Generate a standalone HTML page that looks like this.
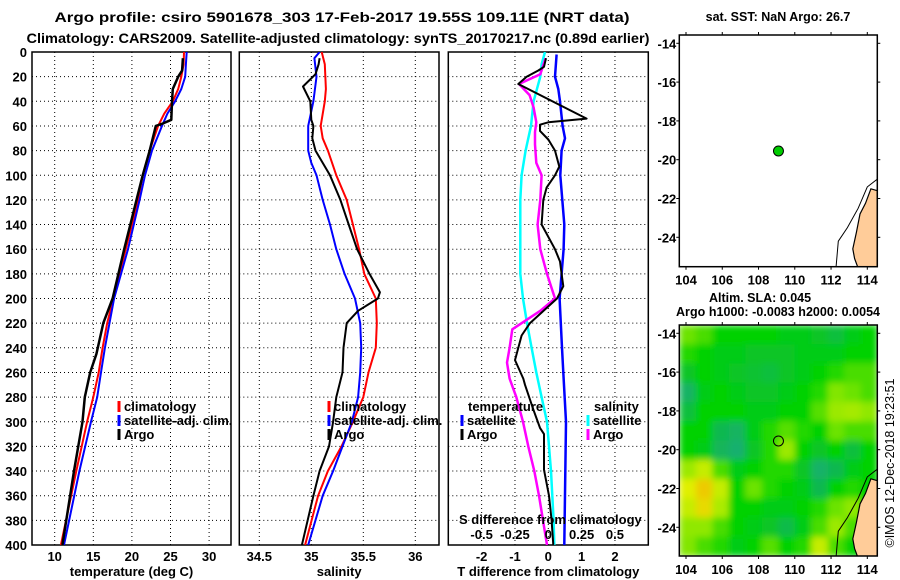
<!DOCTYPE html>
<html><head><meta charset="utf-8"><style>
html,body{margin:0;padding:0;background:#fff;}
svg{display:block;font-family:"Liberation Sans",sans-serif;font-weight:bold;}
</style></head><body>
<svg id="s" width="900" height="580" viewBox="0 0 900 580" xmlns="http://www.w3.org/2000/svg">
<defs>
<clipPath id="c1"><rect x="32" y="52" width="199" height="493"/></clipPath>
<clipPath id="c2"><rect x="239.3" y="52" width="199.7" height="493"/></clipPath>
<clipPath id="c3"><rect x="448.3" y="52" width="200" height="493"/></clipPath>
<clipPath id="cm1"><rect x="679.3" y="35" width="198" height="231.7"/></clipPath>
<clipPath id="cm2"><rect x="679.3" y="325" width="198" height="231"/></clipPath>
<filter id="blur" x="0" y="0" width="1" height="1"><feGaussianBlur stdDeviation="3.5" edgeMode="duplicate"/></filter>
</defs>
<text x="342" y="22" text-anchor="middle" font-size="14" textLength="575" lengthAdjust="spacingAndGlyphs">Argo profile: csiro 5901678_303 17-Feb-2017 19.55S 109.11E (NRT data)</text>
<text x="338" y="43" text-anchor="middle" font-size="13.5" textLength="623" lengthAdjust="spacingAndGlyphs">Climatology: CARS2009. Satellite-adjusted climatology: synTS_20170217.nc (0.89d earlier)</text>
</svg>
<script>
// ---- data ----
const depthTicks=[0,20,40,60,80,100,120,140,160,180,200,220,240,260,280,300,320,340,360,380,400];
const tempTicks=[10,15,20,25,30];
const salTicks=[34.5,35,35.5,36];
const tdiffTicks=[-2,-1,0,1,2];
const sdiffTicks=[-0.5,-0.25,0,0.25,0.5];
const sdiffLabels=['-0.5','-0.25','0','0.25','0.5'];
const climTDepth=[0,10,20,30,40,50,60,80,100,120,160,200,220,240,260,280,300,340,400];
const climT=[26.75,26.7,26.4,26,25.3,24.2,23.4,22.3,21.4,20.8,19.2,17.6,16.8,16.2,15.7,15.0,14.2,12.8,10.8];
const satTDepth=[0,10,20,30,40,50,60,80,100,120,160,200,220,240,260,280,300,340,400];
const satT=[27.1,27.0,26.9,26.4,25.6,24.6,23.9,22.6,21.7,21.0,19.5,17.7,17.1,16.5,16.0,15.5,14.7,13.2,11.2];
const argoTDepth=[5,15,20,30,40,55,58,60,80,100,120,160,200,220,245,260,280,300,340,400];
const argoT=[26.6,26.5,26,25.3,25.2,25.1,24,23.1,22.3,21.4,20.6,19.0,17.5,16.3,15.4,14.6,13.9,13.6,12.5,11.0];
const climSDepth=[0,10,30,40,60,70,80,100,120,140,160,180,200,220,240,260,280,300,320,340,360,400];
const climS=[35.10,35.13,35.14,35.13,35.09,35.11,35.16,35.24,35.34,35.40,35.46,35.51,35.62,35.63,35.62,35.55,35.50,35.40,35.29,35.16,35.065,34.94];
const satSDepth=[0,5,20,40,60,80,90,100,120,140,160,180,200,220,240,260,280,300,320,340,360,400];
const satS=[35.08,35.03,35.05,35.02,34.97,34.97,35.0,35.05,35.11,35.18,35.24,35.32,35.42,35.47,35.48,35.47,35.45,35.39,35.30,35.21,35.11,34.97];
const argoSDepth=[5,10,18,28,40,55,60,70,80,100,120,140,160,180,195,200,210,220,240,260,280,300,320,340,360,400];
const argoS=[35.08,35.07,35.04,34.92,34.99,35.0,35.02,35.01,35.04,35.18,35.28,35.36,35.44,35.56,35.66,35.64,35.45,35.34,35.31,35.30,35.24,35.21,35.17,35.08,35.02,34.91];
const tdSatDepth=[2,20,30,40,60,70,80,100,140,160,200,240,260,300,400];
const tdSat=[0.25,0.2,0.3,0.35,0.43,0.5,0.4,0.36,0.48,0.46,0.34,0.41,0.45,0.53,0.48];
const tdArgoDepth=[5,12,15,20,26,54,57,59,64,71,80,93,100,110,120,140,160,170,180,190,200,220,230,250,265,270,290,305,310,339,360,380,400];
const tdArgo=[-0.07,-0.13,-0.3,-0.65,-0.9,1.15,0.0,-0.25,-0.25,0,0.2,0.33,0.2,-0.05,-0.15,-0.2,0.2,0.35,0.4,0.45,0.26,-0.55,-0.8,-1.0,-0.75,-0.7,-0.45,-0.25,-0.13,-0.13,0.02,0.1,0.15];
const sdSatDepth=[0,10,20,40,60,80,100,120,180,200,220,240,260,280,300,340,380,400];
const sdSat=[-0.025,-0.05,-0.06,-0.11,-0.13,-0.17,-0.2,-0.21,-0.21,-0.19,-0.16,-0.125,-0.09,-0.05,-0.01,0.02,0.04,0.045];
const sdArgoDepth=[5,18,26,35,45,57,65,75,90,100,120,140,160,180,200,210,225,240,252,265,280,300,320,340,360,380,400];
const sdArgo=[-0.02,-0.06,-0.22,-0.14,-0.11,-0.09,-0.1,-0.1,-0.09,-0.05,-0.06,-0.08,-0.06,-0.01,0.05,-0.06,-0.27,-0.29,-0.31,-0.29,-0.24,-0.19,-0.15,-0.105,-0.07,-0.04,-0.01];
const lonTicks=[104,106,108,110,112,114];
const latTicks=[-14,-16,-18,-20,-22,-24];
const argoLon=109.1, argoLat=-19.55;
const slaGrid=[
[.65,.6,.5,.5,.5,.5,.45,.45,.4,.35,.45,.5],
[.55,.5,.45,.45,.4,.4,.4,.45,.45,.45,.5,.5],
[.4,.5,.45,.4,.38,.35,.4,.45,.5,.55,.6,.6],
[.2,.45,.5,.45,.4,.4,.45,.5,.55,.68,.65,.6],
[.35,.5,.5,.5,.45,.45,.5,.5,.62,.72,.74,.7],
[.5,.5,.3,.22,.45,.55,.62,.55,.5,.65,.6,.6],
[.5,.45,.25,.15,.4,.55,.72,.5,.4,.5,.35,.5],
[.72,.8,.6,.45,.5,.55,.55,.4,.18,.3,.45,.5],
[.85,.97,.8,.5,.65,.55,.5,.45,.3,.5,.55,.5],
[.8,.92,.75,.5,.5,.45,.45,.5,.55,.65,.7,.5],
[.7,.7,.6,.5,.45,.4,.32,.45,.6,.72,.6,.5],
[.68,.6,.55,.45,.5,.62,.5,.55,.8,.6,.5,.5]];
const landLonLat=[[114.55,-21.6],[114.2,-21.5],[113.9,-22.25],[113.6,-22.8],[113.4,-23.75],[113.2,-24.6],[113.3,-25.1],[113.5,-25.6],[113.7,-25.8],[114.55,-25.8]];
const shelfLonLat=[[114.55,-21.0],[114.0,-21.4],[113.5,-22.5],[112.9,-23.5],[112.4,-24.2],[112.25,-25.8]];

// ---- helpers ----
const S=document.getElementById('s'),NS='http://www.w3.org/2000/svg';
function mk(t,a,p){const e=document.createElementNS(NS,t);for(const k in a)e.setAttribute(k,a[k]);(p||S).appendChild(e);return e;}
const yD=d=>52+d*1.2325;
const xT=v=>54.7+(v-10)*7.72;
const xS=v=>311.3+(v-35)*104;
const xTD=v=>548.3+v*33.33;
const xSD=v=>548.3+v*133.33;
const mx=lon=>686+(lon-104)*18.13;
const my1=lat=>43.3+(-14-lat)*19.4;
const my2=lat=>333.3+(-14-lat)*19.4;

function panel(x0,w,xt,xf,labels,title,name){
  const g=mk('g',{});
  
  
  depthTicks.forEach(d=>{
    const l=mk('line',{x1:x0,x2:x0+w,y1:yD(d),y2:yD(d),stroke:'#000','stroke-width':1,'stroke-dasharray':'1,3'},g);
    
    
  });
  xt.forEach((v,i)=>{
    const l=mk('line',{x1:xf(v),x2:xf(v),y1:52,y2:545,stroke:'#000','stroke-width':1,'stroke-dasharray':'1,3'},g);
    
    
    const t=mk('text',{x:xf(v),y:561,'text-anchor':'middle','font-size':13},g);
    t.textContent=labels?labels[i]:String(v);
    
    
  });
  const r=mk('rect',{x:x0,y:52,width:w,height:493,fill:'none',stroke:'#000','stroke-width':1.5},g);
  
  
  const tt=mk('text',{x:x0+w/2,y:576,'text-anchor':'middle','font-size':13},g);
  tt.textContent=title;
  
  
  return g;
}
function series(ds,vs,xf,color,wd,clip,name){
  const pts=ds.map((d,i)=>xf(vs[i]).toFixed(1)+','+yD(d).toFixed(1)).join(' ');
  const p=mk('polyline',{points:pts,fill:'none',stroke:color,'stroke-width':wd,'clip-path':'url(#'+clip+')','stroke-linejoin':'round'});
  
  
}
function legend(x,y,color,label,name){
  const l=mk('line',{x1:x,x2:x,y1:y-10,y2:y+1,stroke:color,'stroke-width':3});
  
  
  const t=mk('text',{x:x+5,y:y,'font-size':13});
  t.textContent=label;
  
  
}

depthTicks.forEach(d=>{
  const t=mk('text',{x:27,y:yD(d)+5,'text-anchor':'end','font-size':13});
  t.textContent=String(d);
  
  
});

panel(32,199,tempTicks,xT,null,'temperature (deg C)','temperature-panel');
panel(239.3,199.7,salTicks,xS,null,'salinity','salinity-panel');
panel(448.3,200,tdiffTicks,xTD,null,'T difference from climatology','difference-panel');

series(climTDepth,climT,xT,'#f00',2,'c1','temp-climatology-line');
series(satTDepth,satT,xT,'#00f',2,'c1','temp-satellite-line');
series(argoTDepth,argoT,xT,'#000',2.5,'c1','temp-argo-line');
series(climSDepth,climS,xS,'#f00',2,'c2','sal-climatology-line');
series(satSDepth,satS,xS,'#00f',2,'c2','sal-satellite-line');
series(argoSDepth,argoS,xS,'#000',2,'c2','sal-argo-line');
series(sdSatDepth,sdSat,xSD,'#0ff',2.5,'c3','sdiff-satellite-line');
series(sdArgoDepth,sdArgo,xSD,'#f0f',2.5,'c3','sdiff-argo-line');
series(tdSatDepth,tdSat,xTD,'#00f',2.5,'c3','tdiff-satellite-line');
series(tdArgoDepth,tdArgo,xTD,'#000',2,'c3','tdiff-argo-line');

legend(119,411,'#f00','climatology','legend-climatology');
legend(119,425,'#00f','satellite-adj. clim.','legend-satellite-adj');
legend(119,439,'#000','Argo','legend-argo');
legend(329,411,'#f00','climatology','legend-sal-climatology');
legend(329,425,'#00f','satellite-adj. clim.','legend-sal-satellite-adj');
legend(329,439,'#000','Argo','legend-sal-argo');
{const t=mk('text',{x:468,y:411,'font-size':13});t.textContent='temperature';}
legend(462,425,'#00f','satellite','legend-tdiff-satellite');
legend(462,439,'#000','Argo','legend-tdiff-argo');
{const t=mk('text',{x:594,y:411,'font-size':13});t.textContent='salinity';}
legend(588,425,'#0ff','satellite','legend-sdiff-satellite');
legend(588,439,'#f0f','Argo','legend-sdiff-argo');
{const t=mk('text',{x:459,y:524,'font-size':13});t.textContent='S difference from climatology';}
sdiffTicks.forEach((v,i)=>{
  const t=mk('text',{x:xSD(v),y:539,'text-anchor':'middle','font-size':13});
  t.textContent=sdiffLabels[i];
  
  
});

// ---- maps ----
function cmap(v){
  const st=[[0,[32,168,140]],[0.3,[16,184,80]],[0.5,[0,210,0]],[0.7,[144,232,0]],[0.85,[224,240,0]],[1,[240,192,0]]];
  for(let i=1;i<st.length;i++){if(v<=st[i][0]){const a=st[i-1],b=st[i],f=(v-a[0])/(b[0]-a[0]);return 'rgb('+a[1].map((c,k)=>Math.round(c+(b[1][k]-c)*f)).join(',')+')';}}
  return 'rgb(240,192,0)';
}
function mapFrame(x0,y0,h,myf,name){
  const g=mk('g',{});
  
  
  const r=mk('rect',{x:x0,y:y0,width:198,height:h,fill:'none',stroke:'#000','stroke-width':1.5},g);
  
  
  lonTicks.forEach(v=>{
    mk('line',{x1:mx(v),x2:mx(v),y1:y0-3,y2:y0,stroke:'#000'},g);
    mk('line',{x1:mx(v),x2:mx(v),y1:y0+h,y2:y0+h+3,stroke:'#000'},g);
    const t=mk('text',{x:mx(v),y:y0+h+18,'text-anchor':'middle','font-size':13},g);
    t.textContent=String(v);
    
    
  });
  latTicks.forEach(v=>{
    mk('line',{x1:x0-3,x2:x0,y1:myf(v),y2:myf(v),stroke:'#000'},g);
    mk('line',{x1:x0+198,x2:x0+201,y1:myf(v),y2:myf(v),stroke:'#000'},g);
    const t=mk('text',{x:x0-3,y:myf(v)+5,'text-anchor':'end','font-size':13},g);
    t.textContent=String(v);
    
    
  });
}
const hg=mk('g',{'clip-path':'url(#cm2)'});


const hb=mk('g',{filter:'url(#blur)'},hg);
const lon0=103.63,dlon=(114.55-103.63)/12,lat0=-13.57,dlat=(25.48-13.57)/12;
slaGrid.forEach((row,r)=>row.forEach((v,c)=>{
  const x=mx(lon0+c*dlon),y=my2(lat0-r*dlat);
  const cell=mk('rect',{x:x.toFixed(1),y:y.toFixed(1),width:(dlon*18.13+0.6).toFixed(1),height:(dlat*19.4+0.6).toFixed(1),fill:cmap(v)},hb);
  
  
}));
function land(myf,clip,pre){
  const p=mk('polygon',{points:landLonLat.map(q=>mx(q[0]).toFixed(1)+','+myf(q[1]).toFixed(1)).join(' '),fill:'#ffcc99',stroke:'#000','stroke-width':1.2,'clip-path':'url(#'+clip+')'});
  
  
  const s=mk('polyline',{points:shelfLonLat.map(q=>mx(q[0]).toFixed(1)+','+myf(q[1]).toFixed(1)).join(' '),fill:'none',stroke:'#000','stroke-width':1,'clip-path':'url(#'+clip+')'});
  
  
}
land(my1,'cm1','sst-map');
land(my2,'cm2','sla-map');
mapFrame(679.3,35,231.7,my1,'sst-map');
mapFrame(679.3,325,231,my2,'sla-map');
{const c=mk('circle',{cx:mx(argoLon),cy:my1(argoLat),r:5,fill:'#00cc00',stroke:'#000','stroke-width':1});}
{const c=mk('circle',{cx:mx(argoLon),cy:my2(argoLat),r:5,fill:'none',stroke:'#000','stroke-width':1});}
{const t=mk('text',{x:778,y:21,'text-anchor':'middle','font-size':12.5});t.textContent='sat. SST: NaN Argo: 26.7';}
{const t=mk('text',{x:760,y:302,'text-anchor':'middle','font-size':12.5});t.textContent='Altim. SLA: 0.045';}
{const t=mk('text',{x:778,y:316,'text-anchor':'middle','font-size':12.5,textLength:204});t.textContent='Argo h1000: -0.0083 h2000: 0.0054';}
{const t=mk('text',{x:0,y:0,'text-anchor':'middle','font-size':12.5,'font-weight':'normal',transform:'translate(894,463) rotate(-90)'});t.textContent='©IMOS 12-Dec-2018 19:23:51';}
</script>
</body></html>
